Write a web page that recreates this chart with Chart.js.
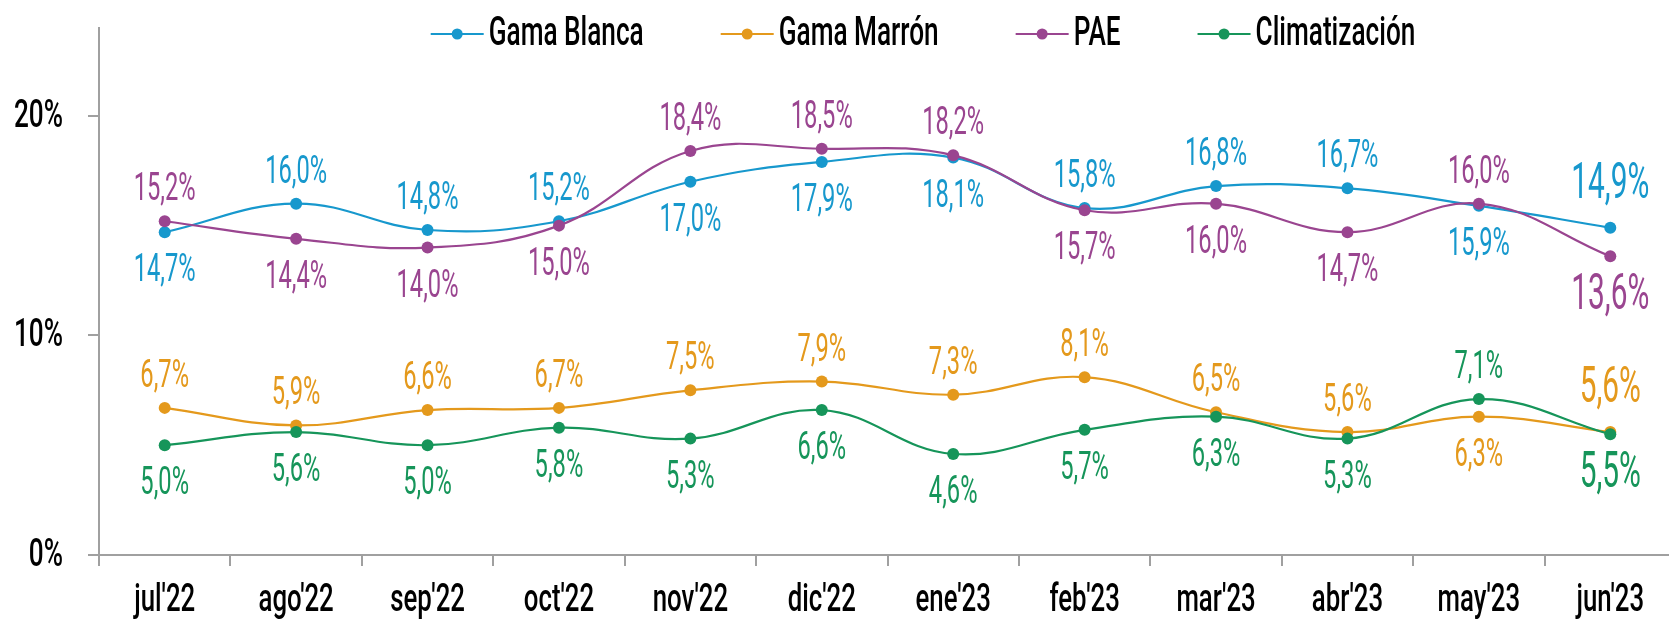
<!DOCTYPE html>
<html lang="es">
<head>
<meta charset="utf-8">
<title>Evolución por familias</title>
<script src="https://cdn.jsdelivr.net/npm/chart.js@4.4.1/dist/chart.umd.min.js"></script>
<style>
  html, body { margin: 0; padding: 0; background: #fff; overflow: hidden; }
  #wrap { position: relative; width: 1700px; height: 620px; }
</style>
</head>
<body>
<div id="wrap"><canvas id="shareChart"></canvas></div>
<script>
// --- data ---
const months = ["jul'22", "ago'22", "sep'22", "oct'22", "nov'22", "dic'22", "ene'23", "feb'23", "mar'23", "abr'23", "may'23", "jun'23"];
const gamaBlanca = [14.7, 16.0, 14.8, 15.2, 17.0, 17.9, 18.1, 15.8, 16.8, 16.7, 15.9, 14.9];
const gamaMarron = [6.7, 5.9, 6.6, 6.7, 7.5, 7.9, 7.3, 8.1, 6.5, 5.6, 6.3, 5.6];
const pae = [15.2, 14.4, 14.0, 15.0, 18.4, 18.5, 18.2, 15.7, 16.0, 14.7, 16.0, 13.6];
const climatizacion = [5.0, 5.6, 5.0, 5.8, 5.3, 6.6, 4.6, 5.7, 6.3, 5.3, 7.1, 5.5];
const yTicks = [0, 10, 20];

// label placement (a = above, b = below)
const blancaPos = ['b', 'a', 'a', 'a', 'b', 'b', 'b', 'a', 'a', 'a', 'b', 'a'];
const marronPos = ['a', 'a', 'a', 'a', 'a', 'a', 'a', 'a', 'a', 'a', 'b', 'a'];
const paePos = ['a', 'b', 'b', 'b', 'a', 'a', 'a', 'b', 'b', 'b', 'a', 'b'];
const climaPos = ['b', 'b', 'b', 'b', 'b', 'b', 'b', 'b', 'b', 'b', 'a', 'b'];

// no narrow font installed, so text is squeezed horizontally when drawn
const FONT = "Roboto, 'DejaVu Sans', sans-serif";
const AXIS_GREY = '#a0a0a0';
const fmt = v => v.toFixed(1).replace('.', ',') + '%';

const squeezeText = (ctx, text, x, y, sx, align = 'center') => {
    ctx.save();
    ctx.translate(x, y);
    ctx.scale(sx, 1);
    ctx.textAlign = align;
    ctx.textBaseline = 'alphabetic';
    ctx.fillText(text, 0, 0);
    ctx.restore();
};

// horizontal factor that makes `ref` come out `width` px wide
const squeezeFor = (ctx, font, ref, width) => {
    ctx.font = font;
    return Math.min(1, width / ctx.measureText(ref).width);
};

// --- axis tick labels ---
const tickLabels = {
    id: 'tickLabels',
    afterDraw(chart) {
        const ctx = chart.ctx;
        const { x: xs, y: ys } = chart.scales;
        ctx.fillStyle = '#000';

        const yFont = `500 39px ${FONT}`;
        const syy = squeezeFor(ctx, yFont, '20%', 49);
        ctx.font = yFont;
        yTicks.forEach(v => {
            squeezeText(ctx, v + '%', 63, ys.getPixelForValue(v) + 11, syy, 'right');
        });

        const xFont = `500 38px ${FONT}`;
        const sxx = squeezeFor(ctx, xFont, "jul'22", 61);
        ctx.font = xFont;
        months.forEach((m, i) => {
            squeezeText(ctx, m, xs.getPixelForTick(i), xs.bottom - 9, sxx);
        });
    }
};

// --- value labels ---
const valueLabels = {
    id: 'valueLabels',
    afterDatasetsDraw(chart) {
        const ctx = chart.ctx;
        const last = months.length - 1;
        const smallFont = `39px ${FONT}`;
        const bigFont = `50px ${FONT}`;
        const sxSmall = squeezeFor(ctx, smallFont, '15,2%', 62);
        const sxBig = squeezeFor(ctx, bigFont, '14,9%', 78);
        chart.data.datasets.forEach((ds, di) => {
            const meta = chart.getDatasetMeta(di);
            meta.data.forEach((pt, i) => {
                const big = i === last;
                const digitH = big ? 36 : 28;
                const above = ds.labelPos[i] === 'a';
                const off = big ? (above ? 48 : 35) : 35;
                const centre = above ? pt.y - off : pt.y + off;
                ctx.font = big ? bigFont : smallFont;
                ctx.fillStyle = ds.borderColor;
                squeezeText(ctx, fmt(ds.data[i]), pt.x, centre + digitH / 2, big ? sxBig : sxSmall);
            });
        });
    }
};

// --- legend: line with dot, then name ---
const lineLegend = {
    id: 'lineLegend',
    afterDraw(chart) {
        const ctx = chart.ctx;
        const font = `500 41px ${FONT}`;
        const sx = squeezeFor(ctx, font, 'Gama Blanca', 155);
        const lineW = 53, gapText = 5, gapItem = 77;
        const items = chart.data.datasets.map(ds => ({
            ds,
            w: lineW + gapText + ctx.measureText(ds.label).width * sx
        }));
        const total = items.reduce((s, it) => s + it.w, 0) + gapItem * (items.length - 1);
        let x = 923 - total / 2;
        const cy = 34;
        items.forEach(({ ds, w }) => {
            ctx.save();
            ctx.strokeStyle = ds.borderColor;
            ctx.lineWidth = 2;
            ctx.beginPath();
            ctx.moveTo(x, cy);
            ctx.lineTo(x + lineW, cy);
            ctx.stroke();
            ctx.fillStyle = ds.borderColor;
            ctx.beginPath();
            ctx.arc(x + lineW / 2, cy, 5.5, 0, Math.PI * 2);
            ctx.fill();
            ctx.restore();
            ctx.font = font;
            ctx.fillStyle = '#000';
            squeezeText(ctx, ds.label, x + lineW + gapText, 45, sx, 'left');
            x += w + gapItem;
        });
    }
};

const series = (label, data, color, pos, order) => ({
    label,
    data,
    labelPos: pos,
    order,
    borderColor: color,
    backgroundColor: color,
    borderWidth: 2.2,
    tension: 0.4,
    pointRadius: 6,
    pointHoverRadius: 6,
    pointBorderWidth: 0,
    fill: false
});

const ctx = document.getElementById('shareChart').getContext('2d');
new Chart(ctx, {
    type: 'line',
    data: {
        labels: months,
        datasets: [
            series('Gama Blanca', gamaBlanca, '#1798cd', blancaPos, 4),
            series('Gama Marrón', gamaMarron, '#e4991c', marronPos, 3),
            series('PAE', pae, '#9a4590', paePos, 2),
            series('Climatización', climatizacion, '#16955a', climaPos, 1)
        ]
    },
    options: {
        responsive: true,
        maintainAspectRatio: false,
        animation: false,
        layout: { padding: { top: 28, right: 24, bottom: 0, left: 0 } },
        plugins: {
            legend: { display: false },
            tooltip: { enabled: false }
        },
        scales: {
            x: {
                offset: true,
                grid: {
                    offset: true,
                    drawOnChartArea: false,
                    drawTicks: true,
                    tickLength: 11,
                    color: AXIS_GREY,
                    lineWidth: 2
                },
                border: { color: AXIS_GREY, width: 2 },
                ticks: { display: false, autoSkip: false, maxRotation: 0 },
                afterFit: scale => { scale.height = 65; }
            },
            y: {
                min: 0,
                max: 24,
                grid: {
                    drawOnChartArea: false,
                    drawTicks: true,
                    tickLength: 11,
                    color: AXIS_GREY,
                    lineWidth: 2
                },
                border: { color: AXIS_GREY, width: 2 },
                ticks: { display: false },
                afterBuildTicks: scale => { scale.ticks = yTicks.map(value => ({ value })); },
                afterFit: scale => { scale.width = 99; }
            }
        }
    },
    plugins: [valueLabels, tickLabels, lineLegend]
});
</script>
</body>
</html>
